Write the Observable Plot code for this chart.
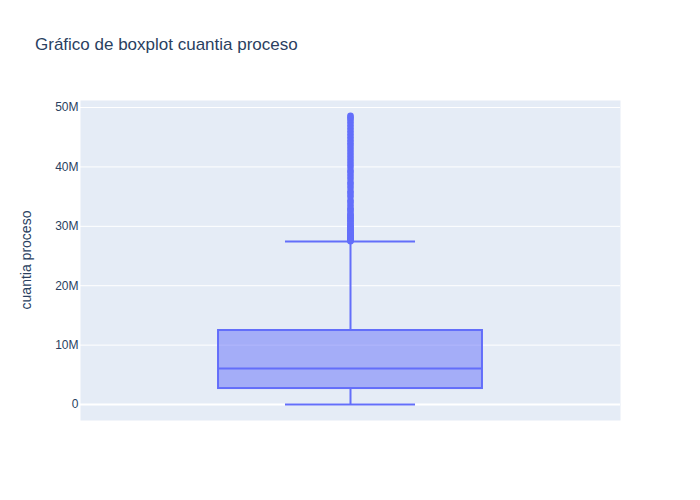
<!DOCTYPE html>
<html>
<head>
<meta charset="utf-8">
<script src="https://cdn.jsdelivr.net/npm/d3@7"></script>
<script src="https://cdn.jsdelivr.net/npm/@observablehq/plot@0.6"></script>
<style>
  body { margin: 0; background: white; }
</style>
</head>
<body>
<div id="chart"></div>
<script>
// ---- Data ----
const categories = ["cuantia proceso"];
const lowerFence = [0];
const q1 = [2.69e6];
const median = [6.06e6];
const q3 = [12.46e6];
const upperFence = [27.44e6];
// outlier values (millions)
const outliersM = [27.5, 27.6, 27.7, 27.8, 27.9, 28.0, 28.1, 28.2, 28.4, 28.5, 28.7, 28.9, 29.0, 29.2, 29.4,
  29.5, 29.8, 30.0, 30.2, 30.5, 30.8, 31.0, 31.3, 31.5, 31.8, 32.0, 32.4, 32.8, 33.0, 33.5, 34.0,
  34.4, 35.0, 35.5, 35.9, 36.5, 37.0, 37.4, 38.0, 38.5, 39.0, 39.4, 40.0, 40.5, 41.0, 41.5, 42.0,
  42.5, 43.0, 43.5, 44.0, 44.5, 45.0, 45.5, 46.0, 46.5, 47.0, 47.5, 48.0, 48.3, 48.6];
const yTicks = [0, 10e6, 20e6, 30e6, 40e6, 50e6];
const yTickLabels = ["0", "10M", "20M", "30M", "40M", "50M"];

const title = "Gráfico de boxplot cuantia proceso";
const yLabel = "cuantia proceso";

// ---- Build tables ----
const boxes = categories.map((c, i) => ({
  c, lo: lowerFence[i], q1: q1[i], med: median[i], q3: q3[i], hi: upperFence[i]
}));
const outliers = outliersM.map(v => ({ v: v * 1e6 }));

const BOX_HALF = 0.2444;
const CAP_HALF = 0.1204;
const COLOR = "#636efa";
const FONT = "'Liberation Sans', Arial, sans-serif";

const chart = Plot.plot({
  width: 700,
  height: 500,
  marginTop: 100,
  marginBottom: 80,
  marginLeft: 80,
  marginRight: 80,
  style: { background: "white", fontFamily: FONT, fontSize: "12px", color: "#2a3f5f" },
  x: { domain: [-0.5, 0.5], axis: null },
  y: { domain: [-2.69e6, 51.18e6], axis: null },
  marks: [
    Plot.frame({ fill: "#e5ecf6", stroke: null }),
    Plot.gridY(yTicks, { stroke: "white", strokeOpacity: 1, strokeWidth: 1 }),
    Plot.ruleY([0], { stroke: "white", strokeWidth: 2 }),
    Plot.axisY(yTicks, {
      tickSize: 0, tickPadding: 2, label: null,
      tickFormat: (d) => yTickLabels[yTicks.indexOf(d)],
      fill: "#2a3f5f", fontSize: 12
    }),
    // whiskers
    Plot.ruleX(boxes, { x: () => 0, y1: "q3", y2: "hi", stroke: COLOR, strokeWidth: 2 }),
    Plot.ruleX(boxes, { x: () => 0, y1: "lo", y2: "q1", stroke: COLOR, strokeWidth: 2 }),
    Plot.ruleY(boxes, { y: "hi", x1: () => -CAP_HALF, x2: () => CAP_HALF, stroke: COLOR, strokeWidth: 2 }),
    Plot.ruleY(boxes, { y: "lo", x1: () => -CAP_HALF, x2: () => CAP_HALF, stroke: COLOR, strokeWidth: 2 }),
    // box
    Plot.rect(boxes, {
      x1: () => -BOX_HALF, x2: () => BOX_HALF, y1: "q1", y2: "q3",
      fill: COLOR, fillOpacity: 0.5, stroke: COLOR, strokeWidth: 2
    }),
    Plot.ruleY(boxes, { y: "med", x1: () => -BOX_HALF, x2: () => BOX_HALF, stroke: COLOR, strokeWidth: 2 }),
    // outliers
    Plot.dot(outliers, { x: () => 0, y: "v", r: 3.3, fill: COLOR, stroke: null })
  ]
});

const svg = d3.select(chart);
svg.append("text")
  .attr("x", 35).attr("y", 50)
  .attr("text-anchor", "start")
  .attr("font-family", FONT).attr("font-size", 17).attr("fill", "#2a3f5f")
  .text(title);
svg.append("text")
  .attr("transform", "translate(31,260) rotate(-90)")
  .attr("text-anchor", "middle")
  .attr("font-family", FONT).attr("font-size", 14).attr("fill", "#2a3f5f")
  .text(yLabel);

document.getElementById("chart").appendChild(chart);
</script>
</body>
</html>
